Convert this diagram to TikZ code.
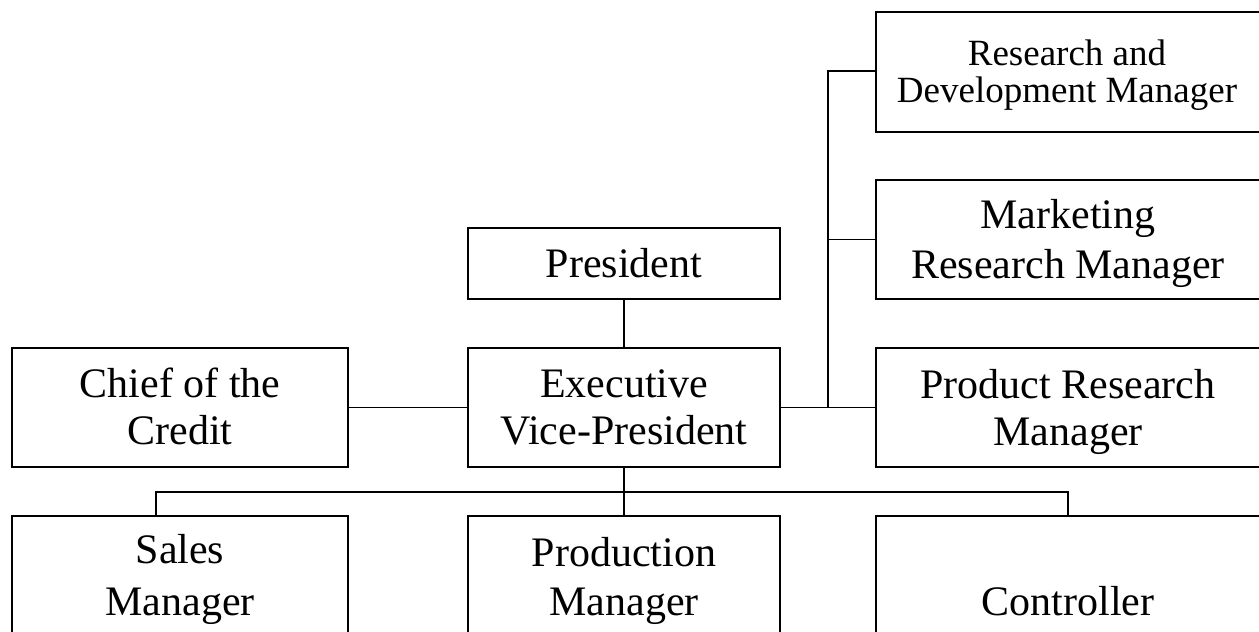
\documentclass[tikz,border=0pt]{standalone}
\usepackage{fontspec}
\setmainfont{Liberation Serif}
\begin{document}
\begin{tikzpicture}[x=1pt,y=-1pt,
  box/.style={draw=black,line width=2pt,rectangle,inner sep=0pt},
  txt/.style={anchor=base,inner sep=0pt,font=\fontsize{42}{47}\selectfont},
  smalltxt/.style={anchor=base,inner sep=0pt,font=\fontsize{37}{37}\selectfont},
  conn/.style={draw=black,line width=1.8pt}]
\clip (0,0) rectangle (1259,632);
\fill[white] (0,0) rectangle (1259,632);
% boxes
\node[box,minimum width=336pt,minimum height=119pt] (chief) at (180,407.5) {};
\node[box,minimum width=312pt,minimum height=119pt] (evp) at (624,407.5) {};
\node[box,minimum width=312pt,minimum height=71pt] (pres) at (624,263.5) {};
\node[box,minimum width=386pt,minimum height=120pt] (rd) at (1069,72) {};
\node[box,minimum width=386pt,minimum height=119pt] (mkt) at (1069,239.5) {};
\node[box,minimum width=386pt,minimum height=119pt] (prod) at (1069,407.5) {};
\node[box,minimum width=336pt,minimum height=120pt] (sales) at (180,576) {};
\node[box,minimum width=312pt,minimum height=120pt] (prodn) at (624,576) {};
\node[box,minimum width=386pt,minimum height=120pt] (ctrl) at (1069,576) {};
% texts
\node[txt] (t1) at (624,277) {President};
\node[txt] (t2) at (624,397) {Executive};
\node[txt] (t3) at (624,444) {Vice-President};
\node[txt] (t4) at (180,397) {Chief of the};
\node[txt] (t5) at (180,444) {Credit};
\node[smalltxt] (t6) at (1067,65) {Research and};
\node[smalltxt] (t7) at (1067,102) {Development Manager};
\node[txt] (t8) at (1068,228) {Marketing};
\node[txt] (t9) at (1068,278) {Research Manager};
\node[txt] (t10) at (1068,398) {Product Research};
\node[txt] (t11) at (1068,445) {Manager};
\node[txt] (t12) at (180,563) {Sales};
\node[txt] (t13) at (180,615) {Manager};
\node[txt] (t14) at (624,566) {Production};
\node[txt] (t15) at (624,615) {Manager};
\node[txt] (t16) at (1068,615) {Controller};
% connectors
\draw[conn] (pres.south) -- (evp.north);
\draw[conn] (chief.east) -- (evp.west);
\draw[conn] (evp.east) -- (prod.west);
\coordinate (bt) at (828,71);
\draw[conn] (rd.west |- bt) -- (bt) -- (bt |- evp.east);
\draw[conn] (mkt.west) -- (bt |- mkt.west);
\draw[conn] (evp.south) -- (prodn.north);
\coordinate (bl) at (156,492);
\coordinate (br) at (1068,492);
\draw[conn] (bl |- sales.north) -- (bl) -- (br) -- (br |- ctrl.north);
\end{tikzpicture}
\end{document}
